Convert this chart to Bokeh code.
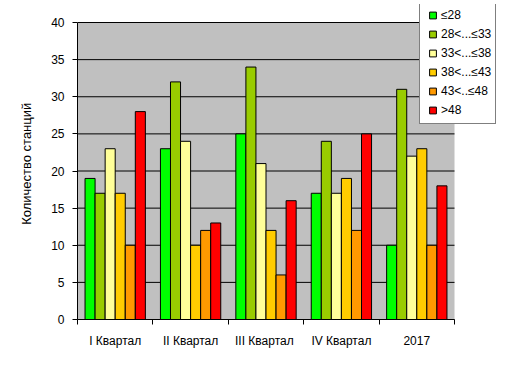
from bokeh.plotting import figure
from bokeh.models import (ColumnDataSource, Range1d, FixedTicker, Legend, LegendItem,
                          BoxAnnotation)
from bokeh.embed import file_html
from bokeh.resources import INLINE

categories = ["I Квартал", "II Квартал", "III  Квартал", "IV Квартал", "2017"]
series_names = ["≤28", "28<...≤33", "33<...≤38", "38<...≤43", "43<..≤48", ">48"]
series_colors = ["#00FF00", "#99CC00", "#FFFF99", "#FFCC00", "#FF9900", "#FF0000"]

s_le28 = [19, 23, 25, 17, 10]
s_28_33 = [17, 32, 34, 24, 31]
s_33_38 = [23, 24, 21, 17, 22]
s_38_43 = [17, 10, 12, 19, 23]
s_43_48 = [10, 12, 6, 12, 10]
s_gt48 = [28, 13, 16, 25, 18]
series_values = [s_le28, s_28_33, s_33_38, s_38_43, s_43_48, s_gt48]

y_ticks = [0, 5, 10, 15, 20, 25, 30, 35, 40]
y_max = 40

FONT = "Liberation Sans"
ncat = len(categories)

# frame enlarged so the legend (which overlaps the plot area) is not clipped
p = figure(width=529, height=389, output_backend="svg", toolbar_location=None,
           x_range=Range1d(0, ncat * 422 / 377), y_range=Range1d(0, y_max * 315 / 297),
           min_border_left=77, min_border_right=30, min_border_top=4, min_border_bottom=70)
p.background_fill_color = "white"
p.border_fill_color = "white"
p.outline_line_color = None
p.xgrid.visible = False
p.ygrid.visible = False

# grey plot area
p.add_layout(BoxAnnotation(left=0, right=ncat, bottom=0, top=y_max,
                           fill_color="#C0C0C0", fill_alpha=1, line_color=None,
                           level="underlay"))
# horizontal grid lines limited to the plot area
p.segment(x0=[0] * len(y_ticks), x1=[ncat] * len(y_ticks), y0=y_ticks, y1=y_ticks,
          line_color="black", line_width=1)

n = len(series_names)
bw = 0.8 / n
centers = [i + 0.5 for i in range(ncat)]
legend_items = []
for j, (name, vals, col) in enumerate(zip(series_names, series_values, series_colors)):
    src = ColumnDataSource(dict(x=[c + (j - (n - 1) / 2) * bw for c in centers], top=vals))
    p.vbar(x="x", top="top", bottom=0, width=bw, source=src,
           fill_color=col, line_color="black", line_width=1)
    key = p.scatter(x="x", y="top", source=src, size=0, marker="square", fill_color=col,
                    line_color="black", line_width=1)
    legend_items.append(LegendItem(label=name, renderers=[key], index=0))

# x axis: labels at group centres, tick marks between groups
p.xaxis.bounds = (0, ncat)
p.xaxis.ticker = FixedTicker(ticks=centers, minor_ticks=list(range(ncat + 1)))
p.xaxis.major_label_overrides = {float(c): lab for c, lab in zip(centers, categories)}
p.xaxis.major_tick_out = 0
p.xaxis.major_tick_in = 0
p.xaxis.minor_tick_out = 5
p.xaxis.minor_tick_in = 0
p.xaxis.major_label_standoff = 9

p.yaxis.bounds = (0, y_max)
p.yaxis.ticker = FixedTicker(ticks=y_ticks)
p.yaxis.major_tick_out = 5
p.yaxis.major_tick_in = 0
p.yaxis.minor_tick_out = 0
p.yaxis.minor_tick_in = 0
p.yaxis.major_label_standoff = 8
p.yaxis.axis_label = "Количество  станций"
p.yaxis.axis_label_standoff = 14
p.yaxis.axis_label_text_font = FONT
p.yaxis.axis_label_text_font_size = "13px"
p.yaxis.axis_label_text_font_style = "normal"
p.yaxis.axis_label_text_color = "black"

for ax in (p.xaxis, p.yaxis):
    ax.axis_line_color = "black"
    ax.major_tick_line_color = "black"
    ax.minor_tick_line_color = "black"
    ax.major_label_text_font = FONT
    ax.major_label_text_font_size = "12px"
    ax.major_label_text_color = "black"

legend = Legend(items=legend_items, location=(342, 195), margin=0, padding=4,
                glyph_width=17, glyph_height=18, label_standoff=0,
                label_height=18, spacing=1,
                label_text_font=FONT, label_text_font_size="12px",
                label_text_color="black",
                border_line_color="black", border_line_width=1,
                background_fill_color="white", background_fill_alpha=1)
p.add_layout(legend, "center")

open("out.html", "w").write(file_html(p, INLINE))
